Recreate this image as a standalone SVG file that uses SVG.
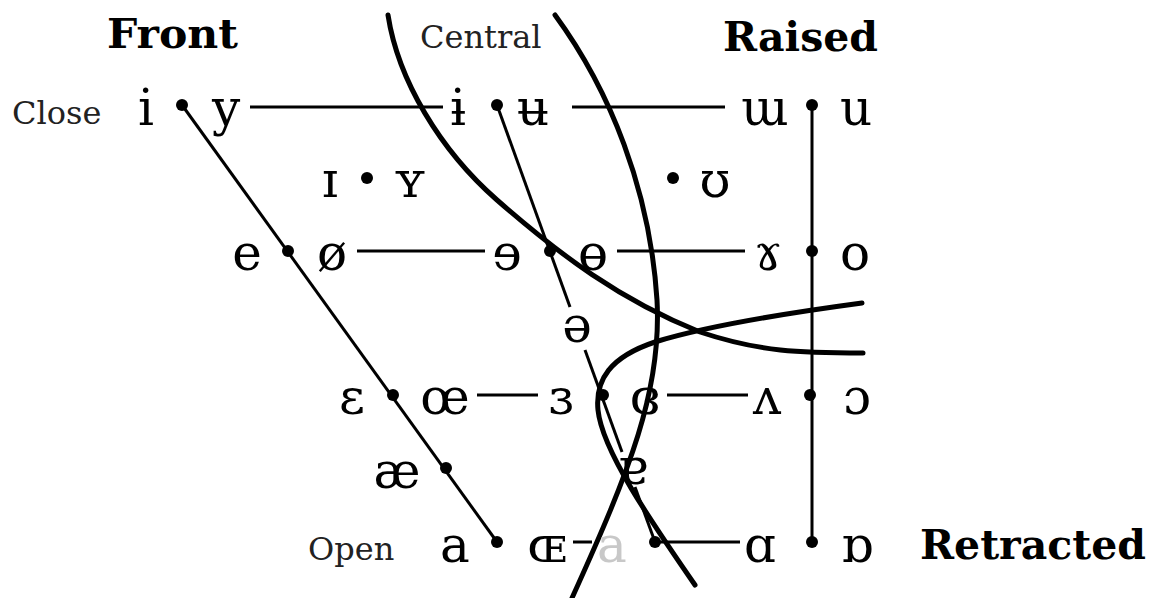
<svg xmlns="http://www.w3.org/2000/svg" width="1159" height="598" viewBox="0 0 1159 598">
<style>
.v{font-family:"DejaVu Serif","Liberation Serif",serif;font-size:50px;fill:#000;text-anchor:middle}
.lab{font-family:"DejaVu Serif","Liberation Serif",serif;font-size:32px;fill:#222}
.hd{font-family:"DejaVu Serif","Liberation Serif",serif;font-size:41px;font-weight:bold;fill:#000}
.ln{stroke:#000;stroke-width:3;fill:none}
.cv{stroke:#000;stroke-width:5;fill:none;stroke-linecap:round}
.dot{fill:#000}
</style>
<rect width="1159" height="598" fill="#fff"/>
<g id="labels">
<text class="hd" x="107" y="48" textLength="131" lengthAdjust="spacingAndGlyphs">Front</text>
<text class="hd" x="723" y="51">Raised</text>
<text class="hd" x="920" y="559">Retracted</text>
<text class="lab" x="420" y="48">Central</text>
<text class="lab" x="12" y="124">Close</text>
<text class="lab" x="308" y="560">Open</text>
</g>
<g id="connectors">
<line class="ln" x1="182" y1="105" x2="497" y2="542"/>
<line class="ln" x1="497" y1="105" x2="570" y2="307"/>
<line class="ln" x1="585" y1="350" x2="622" y2="452"/>
<line class="ln" x1="635" y1="487" x2="655" y2="542"/>
<line class="ln" x1="812" y1="105" x2="812" y2="542"/>
<line class="ln" x1="250" y1="107" x2="443" y2="107"/>
<line class="ln" x1="572" y1="107" x2="725" y2="107"/>
<line class="ln" x1="357" y1="251" x2="485" y2="251"/>
<line class="ln" x1="617" y1="251" x2="745" y2="251"/>
<line class="ln" x1="477" y1="395" x2="538" y2="395"/>
<line class="ln" x1="667" y1="395" x2="748" y2="395"/>
<line class="ln" x1="573" y1="542" x2="592" y2="542"/>
<line class="ln" x1="660" y1="542" x2="740" y2="542"/>
</g>
<g id="curves">
<path class="cv" d="M388,15 C398,80 440,150 497,200 C560,255 620,300 700,332 C760,352 800,353 863,353"/>
<path class="cv" d="M555,15 C610,90 650,190 657,300 C662,390 630,470 572,598"/>
<path class="cv" d="M862,303 C780,314 700,328 655,342 C610,357 595,380 598,410 C602,450 650,520 695,585"/>
</g>
<g id="dots">
<circle class="dot" cx="182" cy="105" r="6"/>
<circle class="dot" cx="497" cy="105" r="6"/>
<circle class="dot" cx="812" cy="105" r="6"/>
<circle class="dot" cx="367" cy="178" r="6"/>
<circle class="dot" cx="673" cy="178" r="6"/>
<circle class="dot" cx="288" cy="251" r="6"/>
<circle class="dot" cx="550" cy="251" r="6"/>
<circle class="dot" cx="812" cy="251" r="6"/>
<circle class="dot" cx="393" cy="395" r="6"/>
<circle class="dot" cx="603" cy="395" r="6"/>
<circle class="dot" cx="810" cy="395" r="6"/>
<circle class="dot" cx="446" cy="468" r="6"/>
<circle class="dot" cx="497" cy="542" r="6"/>
<circle class="dot" cx="655" cy="542" r="6"/>
<circle class="dot" cx="812" cy="542" r="6"/>
</g>
<g id="vowels">
<g id="row-close">
<text class="v" x="146" y="125">i</text>
<text class="v" x="226" y="125">y</text>
<text class="v" x="458" y="125">ɨ</text>
<text class="v" x="533" y="125">ʉ</text>
<text class="v" x="765" y="125">ɯ</text>
<text class="v" x="856" y="125">u</text>
</g>
<g id="row-nearclose">
<text class="v" x="330" y="197">ɪ</text>
<text class="v" x="410" y="197">ʏ</text>
<text class="v" x="715" y="197">ʊ</text>
</g>
<g id="row-closemid">
<text class="v" x="247" y="270">e</text>
<text class="v" x="332" y="270">ø</text>
<text class="v" x="507" y="270">ɘ</text>
<text class="v" x="593" y="270">ɵ</text>
<text class="v" x="768" y="270">ɤ</text>
<text class="v" x="855" y="270">o</text>
</g>
<g id="row-mid">
<text class="v" x="577" y="342">ə</text>
</g>
<g id="row-openmid">
<text class="v" x="352" y="414">ɛ</text>
<text class="v" x="445" y="414">œ</text>
<text class="v" x="561" y="414">ɜ</text>
<text class="v" x="645" y="414">ɞ</text>
<text class="v" x="767" y="414">ʌ</text>
<text class="v" x="857" y="414">ɔ</text>
</g>
<g id="row-nearopen">
<text class="v" x="397" y="488">æ</text>
<text class="v" x="633" y="484">ɐ</text>
</g>
<g id="row-open">
<text class="v" x="455" y="562">a</text>
<text class="v" x="547" y="562">ɶ</text>
<text class="v" x="612" y="562" style="fill:#c8c8c8">a</text>
<text class="v" x="760" y="562">ɑ</text>
<text class="v" x="857" y="562">ɒ</text>
</g>
</g>
</svg>
